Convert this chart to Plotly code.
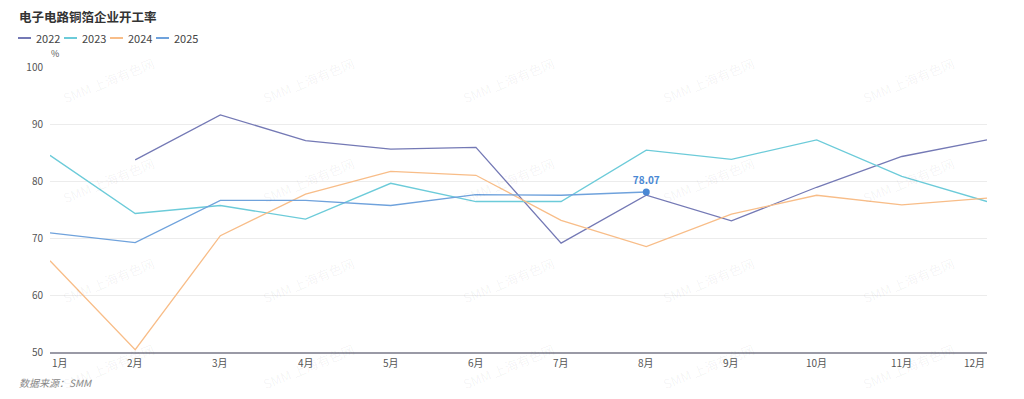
import plotly.graph_objects as go

months = ["1月", "2月", "3月", "4月", "5月", "6月", "7月", "8月", "9月", "10月", "11月", "12月"]
years = ["2022", "2023", "2024", "2025"]
v2022 = [None, 83.7, 91.6, 87.1, 85.6, 85.9, 69.1, 77.5, 73.0, 78.9, 84.3, 87.2]
v2023 = [84.5, 74.3, 75.7, 73.3, 79.6, 76.4, 76.4, 85.4, 83.8, 87.2, 80.8, 76.4]
v2024 = [66.0, 50.4, 70.4, 77.7, 81.7, 81.0, 73.1, 68.5, 74.2, 77.5, 75.8, 77.0]
v2025 = [70.9, 69.2, 76.6, 76.6, 75.7, 77.6, 77.5, 78.07]
colors = ["#7479b5", "#6ccbd9", "#f8bd88", "#6fa2dc"]
yticks = [50, 60, 70, 80, 90, 100]

FONT = "Noto Sans CJK SC"
W, H = 1024, 399
ml, mr, mt, mb = 50, 37, 67, 47
pw, ph = W - ml - mr, H - mt - mb

def px(xp): return (xp - ml) / pw
def py(yp): return 1 - (yp - mt) / ph

xs = list(range(len(months)))
fig = go.Figure()
for name, vals, c in zip(years, [v2022, v2023, v2024, v2025], colors):
    fig.add_trace(go.Scatter(
        x=xs[:len(vals)], y=vals, name=name, mode="lines",
        line=dict(color=c, width=1.3), connectgaps=False, hoverinfo="skip",
        showlegend=False))

# highlighted last 2025 point
last_i = len(v2025) - 1
fig.add_trace(go.Scatter(
    x=[xs[last_i]], y=[v2025[last_i]], mode="markers+text",
    marker=dict(color="#4a88d4", size=7), text=[f"<b>{v2025[last_i]:.2f}</b>"],
    textposition="top center", textfont=dict(family=FONT, size=10, color="#4a88d4"),
    showlegend=False, hoverinfo="skip"))

annotations = []
shapes = []
# watermark
for cy in [80, 180, 280, 366]:
    for cx in [108, 308, 508, 708, 908]:
        annotations.append(dict(xref="paper", yref="paper", x=px(cx), y=py(cy),
                                text="SMM 上海有色网", showarrow=False, textangle=-22,
                                font=dict(family=FONT, size=13, color="rgba(0,0,0,0.05)"),
                                xanchor="center", yanchor="middle"))
# x tick labels
for i, m in enumerate(months):
    anchor = "left" if i == 0 else ("right" if i == len(months) - 1 else "center")
    annotations.append(dict(xref="x", yref="paper", x=i, y=0, yshift=-1, text=m,
                            showarrow=False, xanchor=anchor, yanchor="top",
                            font=dict(family=FONT, size=10, color="#555")))
# custom legend
lx = 18
for name, c in zip(years, colors):
    shapes.append(dict(type="line", xref="paper", yref="paper",
                       x0=px(lx), x1=px(lx + 13), y0=py(38), y1=py(38),
                       line=dict(color=c, width=2)))
    annotations.append(dict(xref="paper", yref="paper", x=px(lx + 16), y=py(38), text=name,
                            showarrow=False, xanchor="left", yanchor="middle",
                            font=dict(family=FONT, size=11, color="#444")))
    lx += 46
# title, unit, source
annotations.append(dict(xref="paper", yref="paper", x=px(17), y=py(17), text="<b>电子电路铜箔企业开工率</b>",
                        showarrow=False, xanchor="left", yanchor="middle",
                        font=dict(family=FONT, size=12.5, color="#333")))
annotations.append(dict(xref="paper", yref="paper", x=px(49), y=py(53), text="%",
                        showarrow=False, xanchor="left", yanchor="middle",
                        font=dict(family=FONT, size=9, color="#555")))
annotations.append(dict(xref="paper", yref="paper", x=px(17), y=py(382), text="<i>数据来源：SMM</i>",
                        showarrow=False, xanchor="left", yanchor="middle",
                        font=dict(family=FONT, size=10, color="#888")))

fig.update_layout(
    width=W, height=H, margin=dict(l=ml, r=mr, t=mt, b=mb),
    paper_bgcolor="white", plot_bgcolor="white",
    font=dict(family=FONT, size=11, color="#555"),
    showlegend=False,
    annotations=annotations, shapes=shapes,
    hovermode=False,
)
fig.update_xaxes(range=[0, len(months) - 1], showticklabels=False, showgrid=False,
                 showline=True, linecolor="#9a9aa6", linewidth=1.5, zeroline=False, ticks="")
fig.update_yaxes(range=[50, 100], tickvals=yticks, showgrid=True, gridcolor="#ececec",
                 gridwidth=1, zeroline=False, showline=False, ticks="",
                 tickfont=dict(family=FONT, size=10, color="#555"), ticklabelstandoff=6)

fig.write_html("out.html", config={"displayModeBar": False},
               post_script="document.body.style.margin='0';document.body.style.overflow='hidden';")
